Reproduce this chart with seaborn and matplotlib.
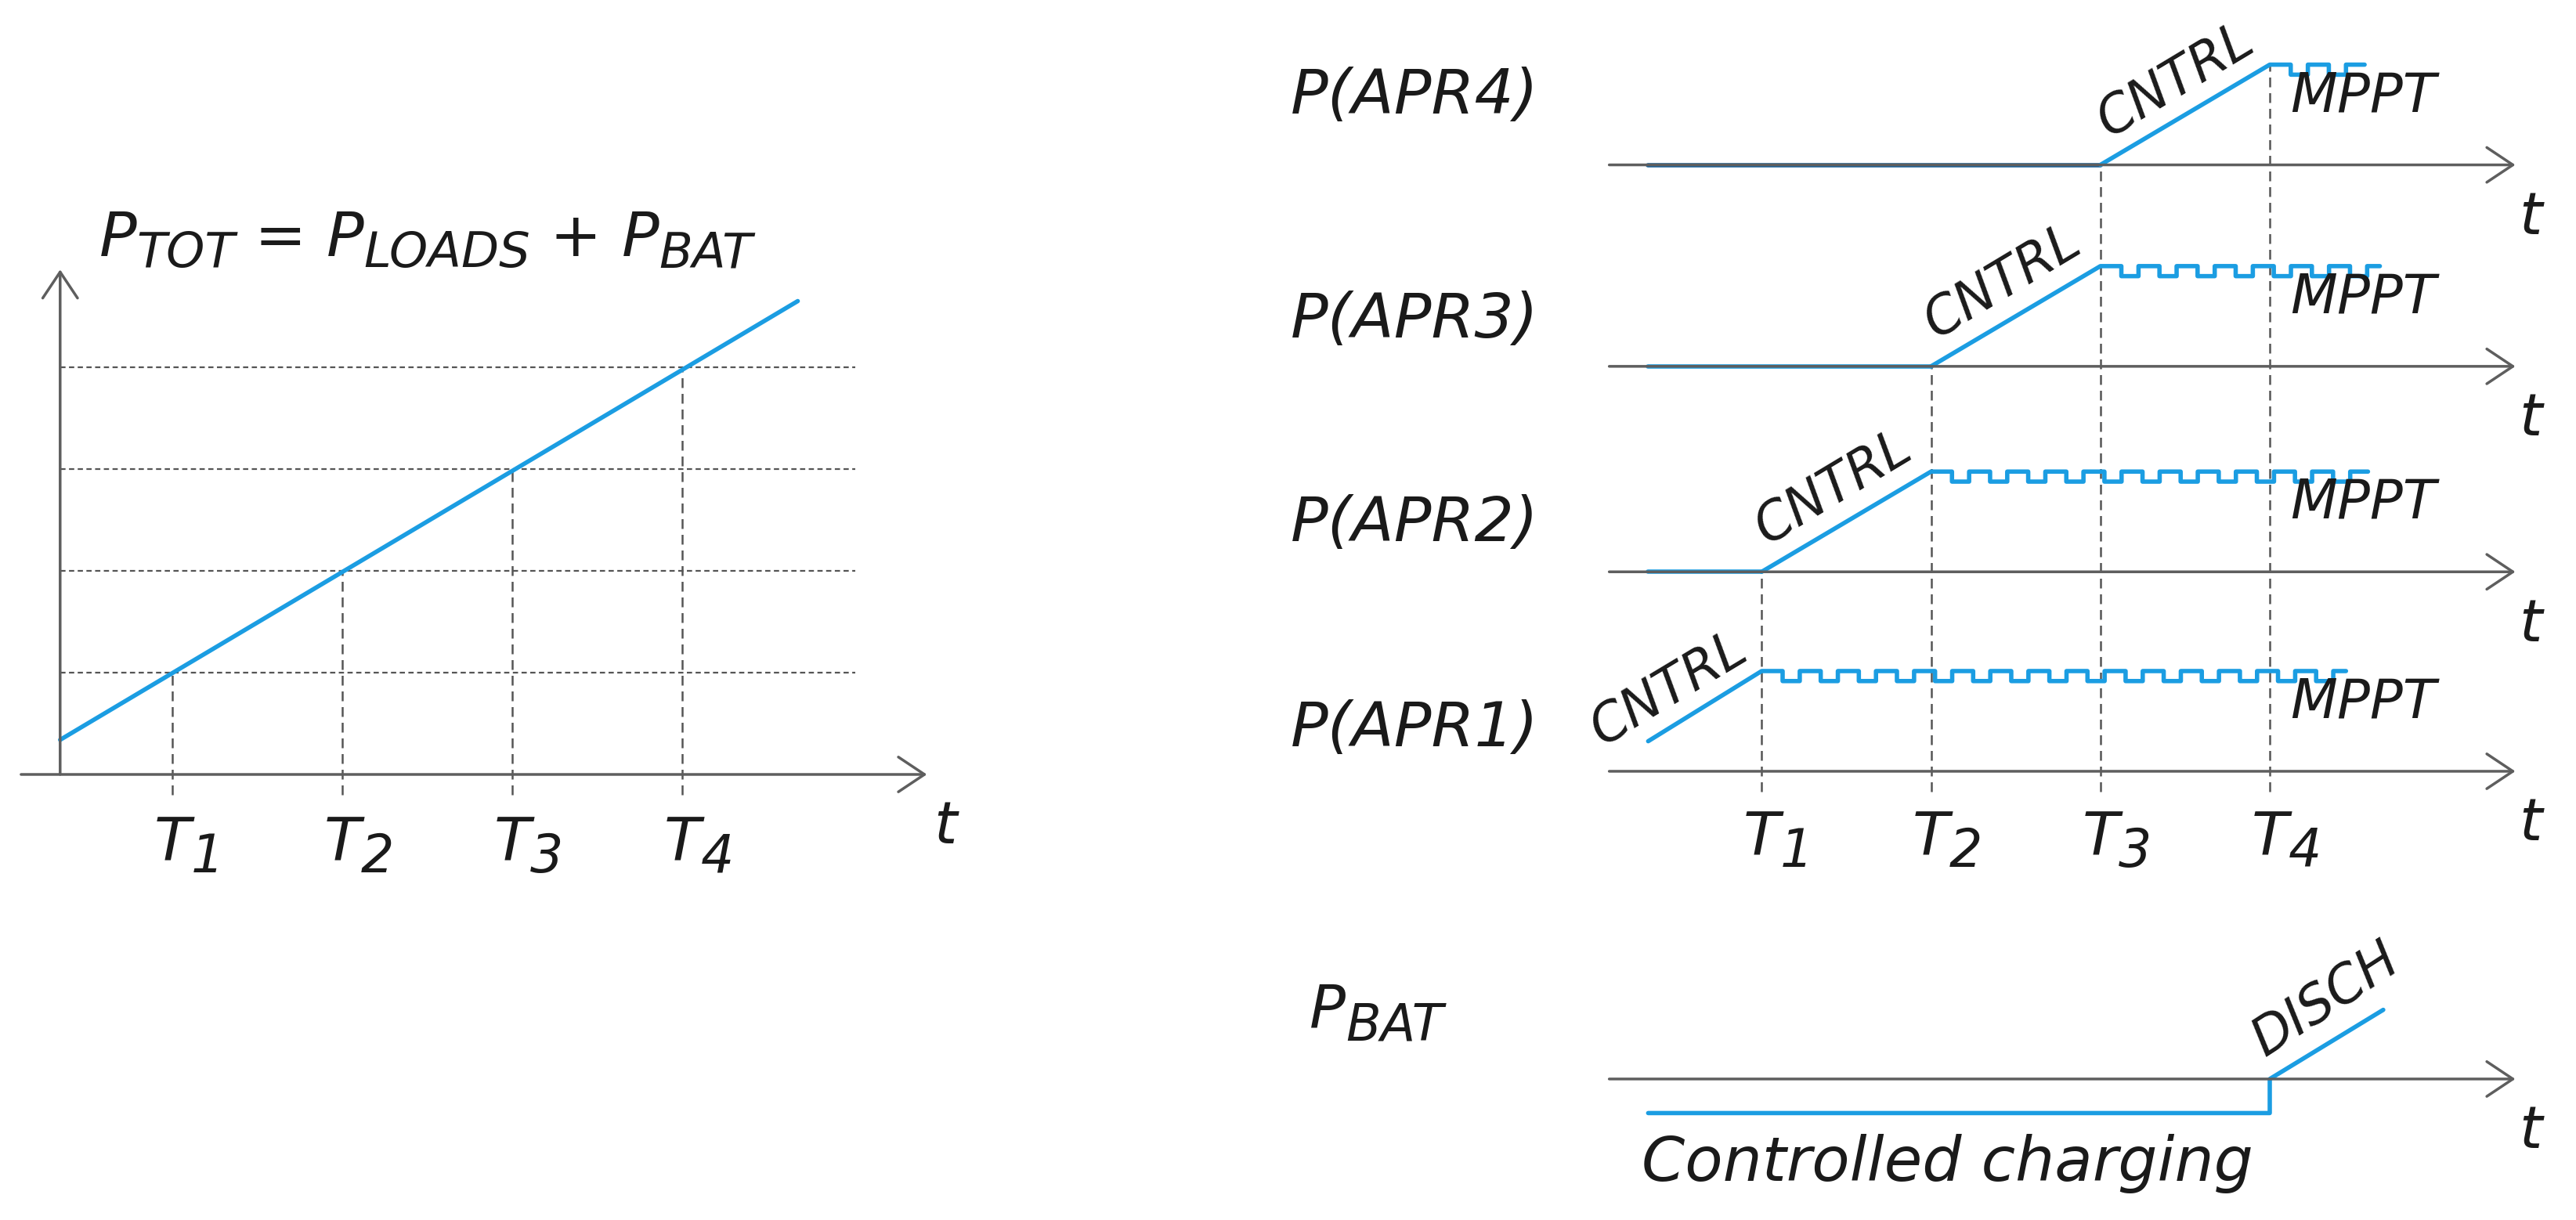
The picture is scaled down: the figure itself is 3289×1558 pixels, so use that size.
import numpy as np
import pandas as pd
import matplotlib
matplotlib.use('Agg')
import matplotlib.pyplot as plt
import seaborn as sns

# --- data (time in units of T, power in units of one converter's MPPT power) ---
t_marks = [1, 2, 3, 4]
t_subs = ['1', '2', '3', '4']

# left: total demanded power rises linearly
ptot_t = [0.34, 4.68]
ptot_p = [0.34, 4.65]
ptot_levels = [1, 2, 3, 4]

# right: converter profiles, top to bottom
apr_names = ['P(APR4)', 'P(APR3)', 'P(APR2)', 'P(APR1)']
apr_t0 = [0.33, 0.33, 0.33, 0.33]          # start of trace
apr_ramp_t0 = [3, 2, 1, 0.33]              # CNTRL ramp start
apr_ramp_p0 = [0, 0, 0, 0.3]
apr_ramp_t1 = [4, 3, 2, 1]                 # MPPT reached
apr_mppt_end = [4.56, 4.65, 4.58, 4.45]
ripple_depth = 0.1
ripple_period = 0.225

# battery: controlled charging then discharging
bat_t = [0.33, 4, 4, 4.67]
bat_p = [-0.34, -0.34, 0, 0.69]

# --- layout ---
apr_base = [10.23, 8.22, 6.17, 4.18]
bat_base = 1.11
name_y = [10.74, 8.51, 6.48, 4.43]
cntrl_x = [3.05, 2.03, 1.03, 0.06]
cntrl_dy = [0.27, 0.27, 0.27, 0.25]

BLUE = '#1b9de2'
DARKBLUE = '#17609a'
AXC = '#5e5e5e'
DASHC = '#555555'
TXT = '#1a1a1a'

sns.set_style('white')
plt.rcParams['font.family'] = ['DejaVu Sans']
plt.rcParams['font.style'] = 'oblique'


def axis_arrow(ax, x0, x1, y0, y1, lw=2.5):
    ax.annotate('', xy=(x1, y1), xytext=(x0, y0),
                arrowprops=dict(arrowstyle='->,head_length=1.2,head_width=0.8',
                                color=AXC, lw=lw, mutation_scale=20,
                                shrinkA=0, shrinkB=0), annotation_clip=False)


def chain_text(ax, x, y, pieces, drop, ha='left'):
    # pieces: (string, fontsize, is_subscript); first piece sits on baseline y
    s, fs, _ = pieces[0]
    prev = ax.text(x, y, s, fontsize=fs, color=TXT, ha=ha, va='baseline')
    prev_sub = False
    for s, fs, is_sub in pieces[1:]:
        dy = 0
        if is_sub and not prev_sub:
            dy = -drop
        elif prev_sub and not is_sub:
            dy = drop
        prev = ax.annotate(s, xy=(1, 0), xycoords=prev, xytext=(0, dy),
                           textcoords='offset points', fontsize=fs, color=TXT,
                           ha='left', va='bottom')
        prev_sub = is_sub


def mppt_wave(t0, t1, top):
    xs, ys = [t0], [top]
    level = top
    e = t0
    while True:
        e += ripple_period * (0.55 if level == top else 0.45)
        if e >= t1:
            break
        xs.append(e); ys.append(level)
        level = top - ripple_depth if level == top else top
        xs.append(e); ys.append(level)
    xs.append(t1); ys.append(level)
    return xs, ys


fig = plt.figure(figsize=(32.89, 15.58), dpi=100)

# ---------------- left panel ----------------
axl = fig.add_axes([3 / 3289, 114 / 1558, 1302 / 3289, 1430 / 1558])

for lv, tm in zip(ptot_levels, t_marks):
    axl.plot([0.34, 5.02], [lv, lv], color=DASHC, lw=1.6, ls=(0, (3, 2)))
    axl.plot([tm, tm], [-0.2, lv], color=DASHC, lw=1.8, ls=(0, (5, 3)))

axis_arrow(axl, 0.11, 5.44, 0, 0)
axis_arrow(axl, 0.34, 0.34, 0, 4.96)

df_tot = pd.DataFrame({'t': ptot_t, 'p': ptot_p})
sns.lineplot(data=df_tot, x='t', y='p', ax=axl, color=BLUE, lw=4,
             estimator=None, sort=False)

for tm, sub in zip(t_marks, t_subs):
    chain_text(axl, tm, -0.85, [('T', 55, False), (sub, 48, True)], drop=9, ha='center')
axl.text(5.55, -0.68, 't', fontsize=54, color=TXT, ha='center', va='baseline')
chain_text(axl, 0.57, 5.09,
           [('P', 57, False), ('TOT', 45, True), (' = ', 57, False),
            ('P', 57, False), ('LOADS', 45, True), (' + ', 57, False),
            ('P', 57, False), ('BAT', 45, True)], drop=8)

axl.set_xlim(0, 6)
axl.set_ylim(-3.5, 7.5)
axl.axis('off')

# ---------------- right panel ----------------
axr = fig.add_axes([2033 / 3289, 38 / 1558, 1211 / 3289, 1480 / 1558])

tops = [apr_base[2], apr_base[1], apr_base[0], apr_base[0] + 1]
for tm, top in zip(t_marks, tops):
    axr.plot([tm, tm], [3.98, top], color=DASHC, lw=1.8, ls=(0, (5, 3)))

for i, name in enumerate(apr_names):
    b = apr_base[i]
    axis_arrow(axr, 0.10, 5.45, b, b)
    if apr_ramp_t0[i] > apr_t0[i]:
        df_flat = pd.DataFrame({'t': [apr_t0[i], apr_ramp_t0[i]], 'p': [b, b]})
        sns.lineplot(data=df_flat, x='t', y='p', ax=axr,
                     color=DARKBLUE if i == 0 else BLUE, lw=4,
                     estimator=None, sort=False)
    wx, wy = mppt_wave(apr_ramp_t1[i], apr_mppt_end[i], 1.0)
    xs = [apr_ramp_t0[i]] + wx
    ys = [apr_ramp_p0[i]] + wy
    df = pd.DataFrame({'t': xs, 'p': np.array(ys) + b})
    sns.lineplot(data=df, x='t', y='p', ax=axr, color=BLUE, lw=4,
                 estimator=None, sort=False)

    axr.text(-1.78, name_y[i], name, fontsize=57, color=TXT, ha='left', va='baseline')
    axr.text(cntrl_x[i], b + cntrl_dy[i], 'CNTRL', fontsize=48, color=TXT,
             ha='left', va='baseline', rotation=31, rotation_mode='anchor')
    axr.text(4.12, b + 0.535, 'MPPT', fontsize=50, color=TXT, ha='left', va='baseline')
    axr.text(5.54, b - 0.69, 't', fontsize=54, color=TXT, ha='center', va='baseline')

for tm, sub in zip(t_marks, t_subs):
    chain_text(axr, tm, 3.34, [('T', 55, False), (sub, 48, True)], drop=9, ha='center')

# battery
axis_arrow(axr, 0.10, 5.45, bat_base, bat_base)
df_bat = pd.DataFrame({'t': bat_t, 'p': np.array(bat_p) + bat_base})
sns.lineplot(data=df_bat, x='t', y='p', ax=axr, color=BLUE, lw=4,
             estimator=None, sort=False)
chain_text(axr, -1.67, 1.62, [('P', 55, False), ('BAT', 47, True)], drop=10)
axr.text(3.97, bat_base + 0.22, 'DISCH', fontsize=48, color=TXT,
         ha='left', va='baseline', rotation=33, rotation_mode='anchor')
axr.text(0.29, 0.094, 'Controlled charging', fontsize=57, color=TXT,
         ha='left', va='baseline')
axr.text(5.54, bat_base - 0.69, 't', fontsize=54, color=TXT, ha='center', va='baseline')

axr.set_xlim(0, 5.6)
axr.set_ylim(0, 11.5625)
axr.axis('off')

fig.savefig('out.png', dpi=100, facecolor='white')
